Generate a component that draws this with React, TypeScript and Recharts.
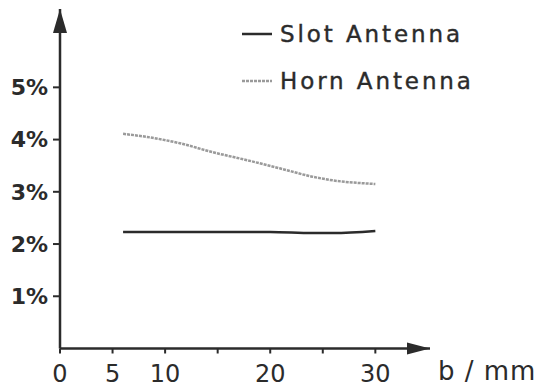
import { LineChart, Line, XAxis, YAxis, ReferenceDot } from "recharts";

const slotB = [6, 10, 15, 20, 24, 26, 30];
const slotLoss = [2.23, 2.23, 2.23, 2.23, 2.21, 2.21, 2.25];

const hornB = [6, 8.3, 11.4, 14.5, 17.7, 20.9, 24, 25.6, 30];
const hornLoss = [4.11, 4.05, 3.93, 3.76, 3.61, 3.45, 3.29, 3.23, 3.15];

const xTicks = [0, 5, 10, 15, 20, 25, 30];
const xLabeled = [0, 5, 10, 20, 30];
const yTicks = [1, 2, 3, 4, 5];

const slotData = slotB.map((b, i) => ({ b, loss: slotLoss[i] }));
const hornData = hornB.map((b, i) => ({ b, loss: hornLoss[i] }));

const INK = "#2b2b2b";
const FONT = "'DejaVu Sans', sans-serif";

const xArrow = (p: any) => (
  <polygon
    points={`${p.cx},${p.cy} ${p.cx - 23},${p.cy - 6} ${p.cx - 23},${p.cy + 6}`}
    fill={INK}
  />
);

const yArrow = (p: any) => (
  <polygon
    points={`${p.cx},${p.cy} ${p.cx - 7},${p.cy + 24} ${p.cx + 7},${p.cy + 24}`}
    fill={INK}
  />
);

const series = [
  { name: "Slot Antenna", color: INK, dash: undefined },
  { name: "Horn Antenna", color: "#9a9a9a", dash: "3 1" },
];

function LegendBox() {
  return (
    <div
      style={{
        position: "absolute",
        left: 242,
        top: 10,
        fontFamily: FONT,
      }}
    >
      {series.map((s) => (
        <div
          key={s.name}
          style={{ display: "flex", alignItems: "center", height: 47 }}
        >
          <svg width={38} height={10}>
            <line
              x1={0}
              x2={30}
              y1={5}
              y2={5}
              stroke={s.color}
              strokeWidth={2.5}
              strokeDasharray={s.dash}
            />
          </svg>
          <span
            style={{
              fontSize: 23,
              color: INK,
              letterSpacing: 2.9,
              WebkitTextStroke: "0.4px #2b2b2b",
            }}
          >
            {s.name}
          </span>
        </div>
      ))}
    </div>
  );
}

export default function App() {
  return (
    <div style={{ position: "absolute", left: 0, top: 0, background: "#fff" }}>
      <LineChart
        width={550}
        height={392}
        margin={{ top: 9, right: 120, bottom: 0, left: 0 }}
      >
        <XAxis
          type="number"
          dataKey="b"
          domain={[0, 35.2]}
          ticks={xTicks}
          tickFormatter={(v: number) => (xLabeled.includes(v) ? String(v) : "")}
          height={43.5}
          tickSize={5}
          tickMargin={11}
          allowDataOverflow
          axisLine={{ stroke: INK, strokeWidth: 2.5 }}
          tickLine={{ stroke: INK, strokeWidth: 2 }}
          tick={{ fill: INK, fontSize: 24, fontFamily: FONT }}
          label={(props: any) => {
            const vb = props.viewBox;
            return (
              <text
                x={vb.x + vb.width + 8}
                y={vb.y + 31}
                fill={INK}
                fontSize={26}
                fontFamily={FONT}
                letterSpacing={1}
              >
                b / mm
              </text>
            );
          }}
        />
        <YAxis
          type="number"
          domain={[0, 6.5]}
          ticks={yTicks}
          tickFormatter={(v: number) => `${v}%`}
          width={60}
          tickSize={7}
          tickMargin={5}
          allowDataOverflow
          axisLine={{ stroke: INK, strokeWidth: 2.5 }}
          tickLine={{ stroke: INK, strokeWidth: 2 }}
          tick={{ fill: INK, fontSize: 22, fontFamily: FONT, fontWeight: "bold" }}
        />
        <Line
          data={hornData}
          dataKey="loss"
          name="Horn Antenna"
          type="monotone"
          stroke="#9a9a9a"
          strokeWidth={2.5}
          strokeDasharray="3 1"
          dot={false}
          isAnimationActive={false}
        />
        <Line
          data={slotData}
          dataKey="loss"
          name="Slot Antenna"
          type="monotone"
          stroke={INK}
          strokeWidth={2.5}
          dot={false}
          isAnimationActive={false}
        />
        <ReferenceDot x={35.2} y={0} r={0} shape={xArrow} ifOverflow="visible" />
        <ReferenceDot x={0} y={6.5} r={0} shape={yArrow} ifOverflow="visible" />
      </LineChart>
      <LegendBox />
    </div>
  );
}
